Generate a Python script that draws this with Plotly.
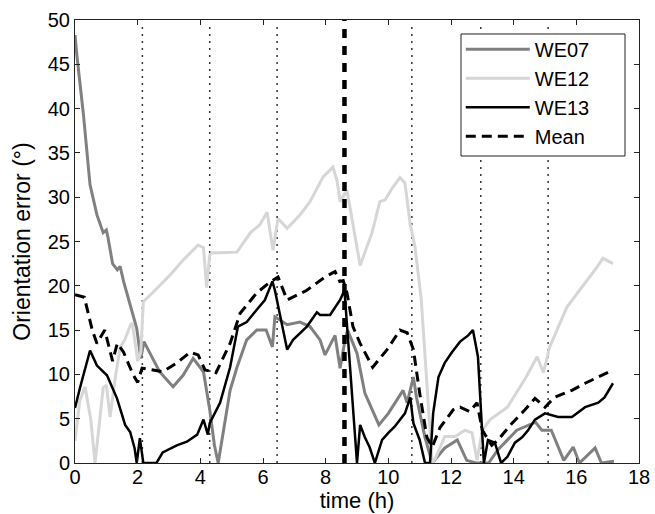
import plotly.graph_objects as go

# ---- data ----
we07_t = [0, 0.06, 0.27, 0.48, 0.7, 0.9, 1.0, 1.05, 1.2, 1.35, 1.44, 1.55, 1.97, 2.1, 2.2, 2.7, 3.13, 3.45, 3.77, 4.1, 4.3, 4.45, 4.57,
          4.95, 5.17, 5.48, 5.8, 6.1, 6.3, 6.38, 6.77, 7.18, 7.5, 7.82, 7.98, 8.3, 8.46, 8.62, 8.7, 9.0, 9.25, 9.7, 10.0,
          10.47, 10.6, 10.8, 10.9, 11.17, 11.4, 11.8, 12.2, 12.5, 12.8, 13.2, 13.5, 14.1, 14.7, 14.9, 15.2, 15.6, 15.9,
          16.1, 16.6, 16.8, 17.2]
we07_v = [48.3, 46, 39.3, 31.4, 28, 26, 26.3, 25.5, 22.5, 21.8, 22.2, 20.5, 15.2, 11.8, 13.7, 10.3, 8.6, 9.9, 11.8, 10.3, 6, 2, 0,
          8.2, 10.8, 13.9, 15, 15, 13.1, 16.5, 15.6, 15.9, 15.4, 13.9, 12.2, 14.4, 10.7, 13.9, 15, 12.4, 7.9, 4.3, 5.6,
          8.2, 6.8, 9.7, 7.4, 2.9, 0, 1.7, 2.6, 0.3, 0, 0, 1.5, 3.7, 4.6, 3.7, 3.7, 0.3, 1.8,
          0, 1.7, 0, 0.2]

we12_t = [0, 0.15, 0.32, 0.5, 0.64, 0.9, 1.0, 1.12, 1.28, 1.44, 1.6, 1.76, 1.83, 2.0, 2.1, 2.18, 2.5, 3.03, 3.45, 3.93,
          4.1, 4.2, 4.3, 4.37, 5.17, 5.6, 5.9, 6.13, 6.32, 6.48, 6.77, 7.18, 7.5, 7.92, 8.23, 8.36, 8.46, 8.68, 9.1,
          9.25, 9.48, 9.73, 9.9, 10.12, 10.37, 10.53, 10.7, 10.85, 11.05, 11.4, 11.5, 11.8, 12.13, 12.45, 12.67, 12.83,
          13.0, 13.25, 13.8, 14.4, 14.75, 14.95, 15.15, 15.7, 16.2, 16.66, 16.85, 17.17]
we12_v = [2.5, 7, 8.6, 5, 0, 8.5, 8.8, 5.2, 9.5, 13, 14, 15.5, 15.8, 11.5, 12.5, 18.2, 19.3, 21.2, 22.9, 24.6,
          24.3, 19.8, 23.5, 23.7, 23.8, 26, 26.9, 28.3, 24, 27.6, 26.5, 28, 29.5, 32.3, 33.4, 31.9, 29.5, 30.8, 22.3,
          23.7, 26, 29.5, 29.7, 31, 32.2, 31.6, 26.9, 24.4, 18.5, 0, 0.5, 3, 3, 3.7, 3.4, 0.3,
          3.7, 4.9, 6.3, 9.7, 12, 10.2, 13.1, 17.6, 19.9, 22.1, 23.1, 22.5]

we13_t = [0, 0.16, 0.48, 0.7, 1.02, 1.34, 1.6, 1.76, 1.9, 1.97, 2.07, 2.18, 2.6, 2.8, 3.25, 3.57, 3.9, 4.1, 4.24, 4.3,
          4.63, 4.95, 5.2, 5.48, 5.8, 6.06, 6.3, 6.38, 6.77, 6.96, 7.4, 7.72, 7.82, 8.14, 8.46, 8.6, 9.0, 9.1, 9.25,
          9.4, 9.57, 9.8, 10.0, 10.2, 10.53, 10.7, 10.8, 11.0, 11.17, 11.33, 11.43, 11.6, 11.8, 12.03, 12.29, 12.55,
          12.7, 12.86, 13.05, 13.18, 13.4, 13.6, 13.8, 14.04, 14.27, 14.46, 14.68, 15.0, 15.42, 15.86, 16.28, 16.7,
          16.9, 17.17]
we13_v = [6.2, 8.5, 12.7, 11, 9.9, 7.3, 4.3, 3.5, 1.7, 0, 2.8, 0, 0, 1.2, 2, 2.4, 3.2, 4.9, 3.2, 4.5,
          6.8, 10.8, 15.4, 15.9, 17.3, 18.4, 20.5, 19.5, 12.8, 13.9, 15.4, 17, 16.7, 16.7, 18.4, 19.5, 0, 4.3, 2.9,
          1.8, 0, 2.6, 3.4, 4.1, 5.6, 7.4, 4.5, 2.6, 0, 0, 5.6, 9.7, 11.3, 12.5, 13.7, 14.4,
          15, 12, 0, 2.6, 2.3, 0, 0.7, 2.3, 2.9, 3.7, 4.9, 5.6, 5.2, 5.2, 6.3, 6.8,
          7.4, 9]

mean_t = [0, 0.3, 0.55, 0.7, 0.95, 1.2, 1.35, 1.55, 1.85, 2.0, 2.14, 2.5, 2.8, 3.25, 3.67, 3.93, 4.15, 4.4, 4.5,
          4.95, 5.27, 5.8, 6.22, 6.48, 6.77, 7.4, 7.98, 8.3, 8.45, 8.56, 8.68, 8.87, 9.1, 9.5, 9.96, 10.37, 10.6,
          10.8, 11.0, 11.23, 11.4, 11.65, 12.07, 12.29, 12.6, 12.83, 13.0, 13.3, 13.5, 13.95, 14.36, 14.68, 15.0,
          15.3, 15.86, 16.28, 16.7, 17.17]
mean_v = [19, 18.7, 15, 13.5, 15, 11.5, 13.5, 12.5, 10, 9.1, 10.7, 10.5, 10.3, 11.3, 12.5, 12.2, 10.5, 10.3, 10.2,
          13.5, 16.9, 19.2, 20.4, 21, 18.4, 19.5, 21, 21.6, 20.5, 20.6, 19.2, 15.4, 13.5, 10.8, 12.8, 15, 14.7,
          12.8, 7.9, 2.9, 1.8, 4, 6, 6.3, 5.8, 6.8, 3.7, 2.0, 2.6, 4.5, 6, 7.3, 6.3,
          7.4, 8.2, 9, 9.7, 10.5]

event_times = [2.15, 4.3, 6.45, 10.75, 12.95, 15.1]
marker_time = 8.6

x_ticks = [0, 2, 4, 6, 8, 10, 12, 14, 16, 18]
y_ticks = [0, 5, 10, 15, 20, 25, 30, 35, 40, 45, 50]

FONT = "Liberation Sans, Arial, Helvetica, sans-serif"

fig = go.Figure()

for t in event_times:
    fig.add_shape(type="line", xref="x", yref="y", x0=t, x1=t, y0=0, y1=49.5,
                  line=dict(color="#333333", width=1.5, dash="2px,5px"), layer="below")
fig.add_shape(type="line", xref="x", yref="y", x0=marker_time, x1=marker_time, y0=0, y1=50,
              line=dict(color="black", width=4.5, dash="9px,8px"), layer="above")

# legend frame (white box with thin border)
fig.add_shape(type="rect", xref="paper", yref="paper", x0=0.6844, x1=0.9752, y0=0.693, y1=0.9684,
              line=dict(color="#222222", width=1), fillcolor="white", layer="above")

fig.add_trace(go.Scatter(x=we07_t, y=we07_v, mode="lines", name="WE07",
                         line=dict(color="#808080", width=3)))
fig.add_trace(go.Scatter(x=we12_t, y=we12_v, mode="lines", name="WE12",
                         line=dict(color="#d6d6d6", width=3)))
fig.add_trace(go.Scatter(x=we13_t, y=we13_v, mode="lines", name="WE13",
                         line=dict(color="black", width=2.5)))
fig.add_trace(go.Scatter(x=mean_t, y=mean_v, mode="lines", name="Mean",
                         line=dict(color="black", width=3, dash="10px,6px")))

axis_common = dict(showline=True, linecolor="#222222", linewidth=1, mirror="ticks",
                   ticks="inside", ticklen=5, tickcolor="#222222", tickwidth=1,
                   showgrid=False, zeroline=False,
                   tickfont=dict(family=FONT, size=20, color="black"))

fig.update_xaxes(range=[0, 18], tickvals=x_ticks, ticktext=[str(v) for v in x_ticks],
                 title=dict(text="time (h)", font=dict(family=FONT, size=22, color="black"), standoff=4),
                 ticklabelstandoff=-4,
                 **axis_common)
fig.update_yaxes(range=[0, 50], tickvals=y_ticks, ticktext=[str(v) for v in y_ticks],
                 title=dict(text="Orientation error (°)", font=dict(family=FONT, size=23, color="black"), standoff=10),
                 ticklabelstandoff=0,
                 **axis_common)

fig.update_layout(
    width=655, height=514,
    margin=dict(l=75, r=16, t=20, b=51, autoexpand=False),
    paper_bgcolor="white", plot_bgcolor="white",
    font=dict(family=FONT, color="black"),
    legend=dict(x=0.684, y=0.978, xanchor="left", yanchor="top",
                bgcolor="rgba(0,0,0,0)", borderwidth=0,
                font=dict(family=FONT, size=20, color="black"),
                itemwidth=64, tracegroupgap=0),
    showlegend=True,
)

fig.write_html("out.html", config={"displayModeBar": False},
               post_script="document.body.style.margin='0px';document.body.style.padding='0px';")
